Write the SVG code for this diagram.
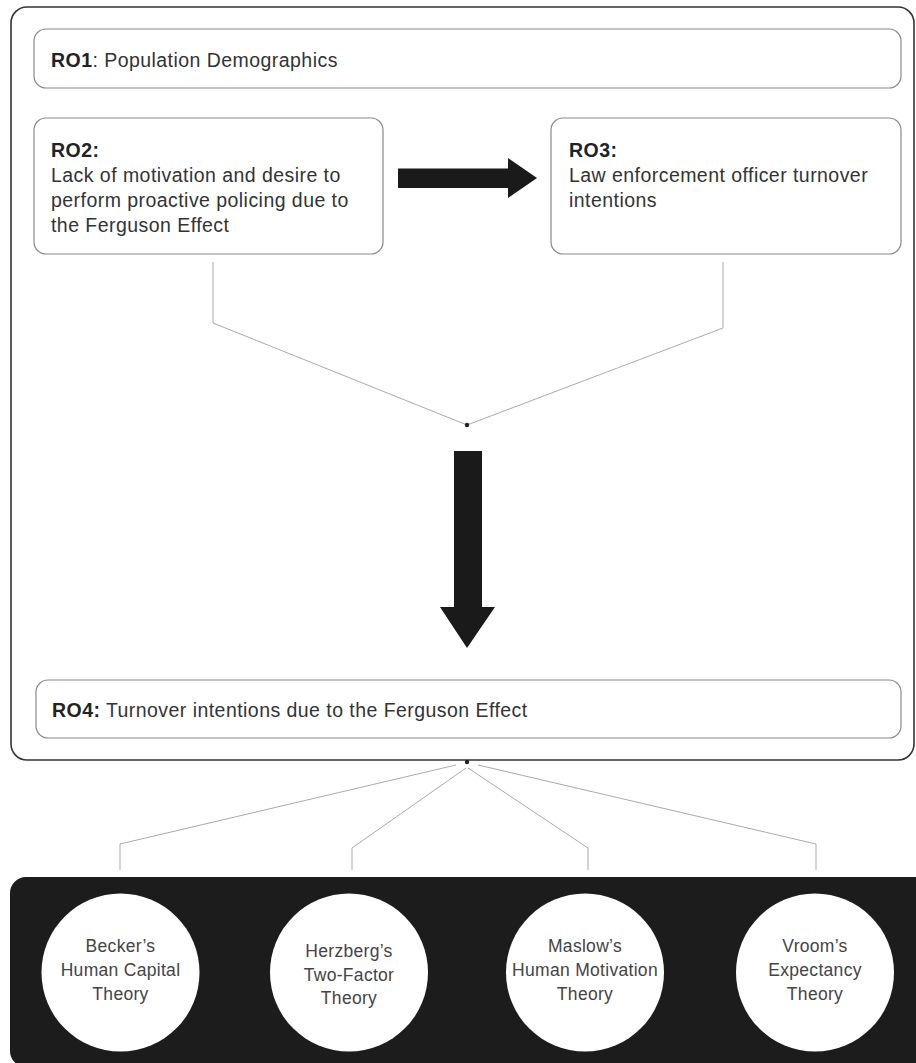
<svg xmlns="http://www.w3.org/2000/svg" width="916" height="1063" viewBox="0 0 916 1063">
<style>
.box{fill:#fff;stroke:#8a8a8a;stroke-width:1.2}
.t{font-family:"Liberation Sans",Arial,sans-serif;font-size:19.5px;letter-spacing:0.45px;fill:#333}
.b{font-weight:bold;fill:#222}
.c{font-family:"Liberation Sans",Arial,sans-serif;font-size:17.5px;letter-spacing:0.3px;fill:#444;text-anchor:middle}
.ln{fill:none;stroke:#aaa;stroke-width:1}
.circ{fill:#fff}
</style>
<rect width="916" height="1063" fill="#fff"/>
<g id="outer">
<rect x="11" y="7" width="903" height="753" rx="16" fill="none" stroke="#333" stroke-width="1.6"/>
</g>
<g id="ro1">
<rect class="box" x="34" y="29" width="867" height="59" rx="12"/>
<text class="t" x="51" y="67"><tspan class="b">RO1</tspan>: Population Demographics</text>
</g>
<g id="ro2">
<rect class="box" x="34" y="118" width="349" height="136" rx="12"/>
<text class="t" x="51" y="157"><tspan class="b">RO2:</tspan><tspan x="51" y="182">Lack of motivation and desire to</tspan><tspan x="51" y="207">perform proactive policing due to</tspan><tspan x="51" y="232">the Ferguson Effect</tspan></text>
</g>
<g id="ro3">
<rect class="box" x="551" y="118" width="350" height="136" rx="12"/>
<text class="t" x="569" y="157"><tspan class="b">RO3:</tspan><tspan x="569" y="182">Law enforcement officer turnover</tspan><tspan x="569" y="207">intentions</tspan></text>
</g>
<g id="ro4">
<rect class="box" x="36" y="680" width="865" height="58" rx="12"/>
<text class="t" x="52" y="717"><tspan class="b">RO4:</tspan> Turnover intentions due to the Ferguson Effect</text>
</g>
<g id="connectors">
<polygon points="398,168.5 508,168.5 508,158 537,178 508,198 508,188 398,188" fill="#1a1a1a"/>
<polygon points="454,451 482,451 482,607 495,607 467,648 440,607 454,607" fill="#1a1a1a"/>
<polyline class="ln" points="213,262 213,323 467,425"/>
<polyline class="ln" points="723,262 723,328 467,425"/>
<circle cx="467" cy="425" r="2.2" fill="#222"/>
<polyline class="ln" points="456,765 120,844 120,870"/>
<polyline class="ln" points="466,768 352,848 352,870"/>
<polyline class="ln" points="468,768 588,848 588,870"/>
<polyline class="ln" points="478,765 816,844 816,870"/>
<circle cx="467" cy="762" r="2.2" fill="#222"/>
</g>
<g id="theories">
<rect x="10" y="877" width="920" height="190" rx="16" fill="#1c1c1c"/>
</g>
<g id="becker">
<circle class="circ" cx="120.5" cy="972.5" r="79"/>
<text class="c" x="120.5" y="952">Becker’s<tspan x="120.5" y="976">Human Capital</tspan><tspan x="120.5" y="1000">Theory</tspan></text>
</g>
<g id="herzberg">
<circle class="circ" cx="349" cy="972.5" r="79"/>
<text class="c" x="349" y="957">Herzberg’s<tspan x="349" y="981">Two-Factor</tspan><tspan x="349" y="1004">Theory</tspan></text>
</g>
<g id="maslow">
<circle class="circ" cx="585" cy="972.5" r="79"/>
<text class="c" x="585" y="952">Maslow’s<tspan x="585" y="976">Human Motivation</tspan><tspan x="585" y="1000">Theory</tspan></text>
</g>
<g id="vroom">
<circle class="circ" cx="815" cy="972.5" r="79"/>
<text class="c" x="815" y="952">Vroom’s<tspan x="815" y="976">Expectancy</tspan><tspan x="815" y="1000">Theory</tspan></text>
</g>
</svg>
